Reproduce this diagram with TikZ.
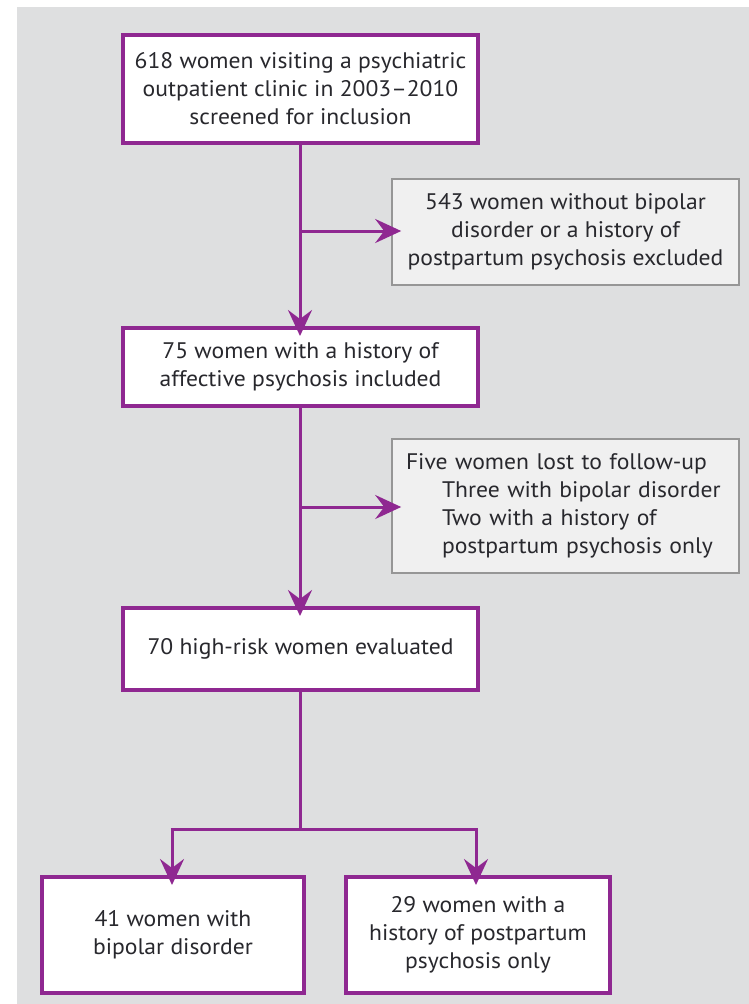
\documentclass[tikz,border=0pt]{standalone}
\usepackage{fontspec}
\setmainfont[FakeStretch=1.05]{PT Sans}
\usetikzlibrary{arrows.meta}
\definecolor{pur}{RGB}{143,40,145}
\definecolor{bg}{RGB}{222,223,224}
\definecolor{gbox}{RGB}{240,240,240}
\definecolor{gline}{RGB}{150,150,150}
\definecolor{txt}{RGB}{40,40,45}
\tikzset{
  mainbox/.style={draw=pur, line width=4pt, fill=white, text=txt, align=center, inner sep=0pt,
    font=\fontsize{22.5}{28}\selectfont},
  sidebox/.style={draw=gline, line width=1.6pt, fill=gbox, text=txt, inner sep=0pt,
    font=\fontsize{22.5}{28}\selectfont},
  flow/.style={draw=pur, line width=3pt},
  arr/.style={flow, -{Stealth[length=26pt,width=24pt,inset=9pt]}, shorten >=-10pt},
}
\begin{document}
\begin{tikzpicture}[x=1pt,y=-1pt]
\useasboundingbox (0,0) rectangle (749,1004);
\fill[white] (0,0) rectangle (749,1004);
\fill[bg] (17,7) rectangle (749,1004);

\node[mainbox, minimum width=355pt, minimum height=108pt] (b1) at (300.5,89)
  {618 women visiting a psychiatric\\outpatient clinic in 2003--2010\\screened for inclusion};
\node[sidebox, align=center, minimum width=347pt, minimum height=106pt] (b2) at (565.5,232)
  {543 women without bipolar\\disorder or a history of\\postpartum psychosis excluded};
\node[mainbox, minimum width=355pt, minimum height=78pt] (b3) at (300.5,367)
  {75 women with a history of\\affective psychosis included};
\node[sidebox, align=left, minimum width=347pt, minimum height=134pt, text width=319pt] (b4) at (565.5,506)
  {Five women lost to follow-up\\
   \hspace*{36pt}Three with bipolar disorder\\
   \hspace*{36pt}Two with a history of\\
   \hspace*{36pt}postpartum psychosis only};
\node[mainbox, minimum width=355pt, minimum height=82pt] (b5) at (300.5,649)
  {70 high-risk women evaluated};
\node[mainbox, minimum width=262pt, minimum height=116pt] (b6) at (173,935)
  {41 women with\\bipolar disorder};
\node[mainbox, minimum width=264pt, minimum height=116pt] (b7) at (478,935)
  {29 women with a\\history of postpartum\\psychosis only};

\coordinate (t1) at (300,145);
\coordinate (t3) at (300,408);
\coordinate (t5) at (300,690);
\coordinate (j1) at (300,231);
\coordinate (j2) at (300,507);
\coordinate (s) at (300,829);
\coordinate (sl) at (172,829);
\coordinate (sr) at (476,829);

\draw[arr] (t1) -- (t1 |- b3.north);
\draw[arr] (j1) -- (j1 -| b2.west);
\draw[arr] (t3) -- (t3 |- b5.north);
\draw[arr] (j2) -- (j2 -| b4.west);
\draw[flow] (t5) -- (s);
\draw[flow] ([xshift=-1.5pt]sl) -- ([xshift=1.5pt]sr);
\draw[arr] (sl) -- (sl |- b6.north);
\draw[arr] (sr) -- (sr |- b7.north);
\end{tikzpicture}
\end{document}
